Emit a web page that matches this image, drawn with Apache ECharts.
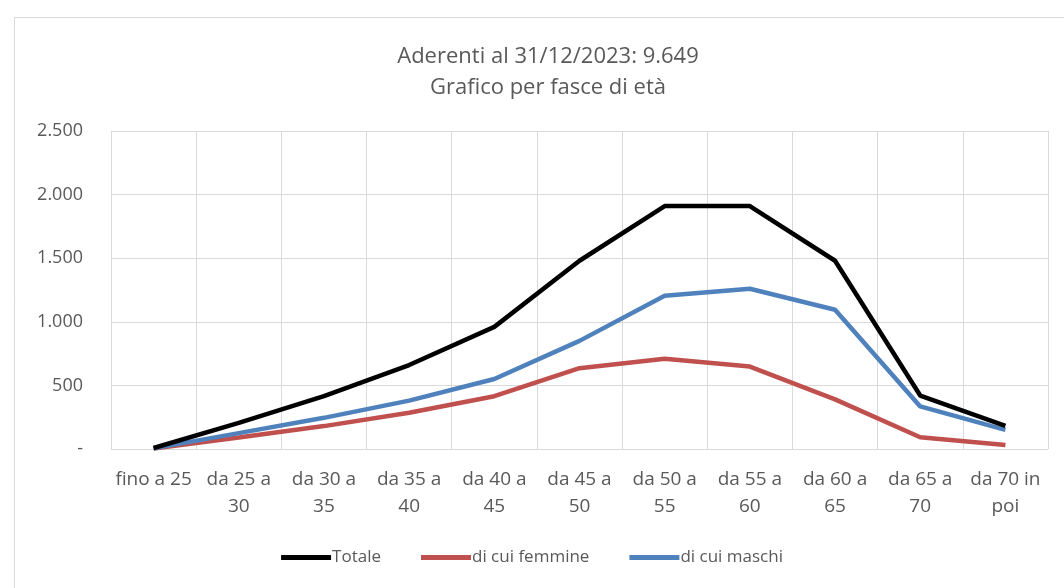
<!DOCTYPE html>
<html>
<head>
<meta charset="utf-8">
<script src="https://cdn.jsdelivr.net/npm/echarts@6/dist/echarts.min.js"></script>
<style>
html,body{margin:0;padding:0;background:#fff;}
#chart{width:1064px;height:588px;}
</style>
</head>
<body>
<div id="chart"></div>
<script>
const titleLines = ["Aderenti al 31/12/2023: 9.649", "Grafico per fasce di età"];
const categories = ["fino a 25", "da 25 a 30", "da 30 a 35", "da 35 a 40", "da 40 a 45", "da 45 a 50", "da 50 a 55", "da 55 a 60", "da 60 a 65", "da 65 a 70", "da 70 in poi"];
const totale = [8, 205, 415, 660, 960, 1480, 1910, 1910, 1480, 420, 182];
const femmine = [3, 90, 180, 285, 415, 635, 710, 648, 390, 92, 32];
const maschi = [5, 125, 245, 380, 550, 850, 1205, 1260, 1095, 335, 150];
const seriesNames = ["Totale", "di cui femmine", "di cui maschi"];

const labelFont = "'Open Sans', sans-serif";
const chart = echarts.init(document.getElementById('chart'));
function fmtY(v){
  if (v === 0) return '-';
  return String(v).replace(/\B(?=(\d{3})+(?!\d))/g, '.');
}
function wrapCat(s){
  if (s.length <= 9) return s;
  const i = s.lastIndexOf(' ');
  return s.slice(0, i) + '\n' + s.slice(i + 1);
}
chart.setOption({
  backgroundColor: '#fff',
  animation: false,
  graphic: [{
    type: 'rect', left: 12, top: 15, silent: true,
    shape: { width: 1080, height: 600 },
    style: { fill: 'none', stroke: '#d9d9d9', lineWidth: 1 }
  }],
  title: {
    text: titleLines.join('\n'),
    left: 543, top: 36, textAlign: 'center',
    textStyle: { fontFamily: labelFont, fontSize: 22, fontWeight: 'normal', color: '#595959', lineHeight: 31 }
  },
  legend: {
    bottom: 17, left: 'center',
    icon: 'rect', itemWidth: 50, itemHeight: 5, itemGap: 40,
    textStyle: { fontFamily: labelFont, fontSize: 17, color: '#595959', padding: [0,0,0,-4] },
    data: seriesNames
  },
  grid: { left: 111, right: 16, top: 131, bottom: 139, containLabel: false },
  xAxis: {
    type: 'category', data: categories, boundaryGap: true,
    axisLine: { show: false },
    axisTick: { show: false },
    splitLine: { show: true, lineStyle: { color: '#d9d9d9', width: 1 } },
    axisLabel: {
      interval: 0, margin: 17, formatter: wrapCat,
      fontFamily: labelFont, fontSize: 19, color: '#595959', lineHeight: 27
    }
  },
  yAxis: {
    type: 'value', min: 0, max: 2500, interval: 500,
    axisLine: { show: false }, axisTick: { show: false },
    splitLine: { lineStyle: { color: '#d9d9d9', width: 1 } },
    axisLabel: { formatter: fmtY, margin: 28, fontFamily: labelFont, fontSize: 18, color: '#595959' }
  },
  series: [
    { name: seriesNames[0], type: 'line', data: totale, symbol: 'none', lineStyle: { color: '#000000', width: 4.5 }, itemStyle: { color: '#000000' }, z: 3 },
    { name: seriesNames[1], type: 'line', data: femmine, symbol: 'none', lineStyle: { color: '#c0504d', width: 4.5 }, itemStyle: { color: '#c0504d' }, z: 2 },
    { name: seriesNames[2], type: 'line', data: maschi, symbol: 'none', lineStyle: { color: '#4f81bd', width: 4.5 }, itemStyle: { color: '#4f81bd' }, z: 2 }
  ]
});
</script>
</body>
</html>
